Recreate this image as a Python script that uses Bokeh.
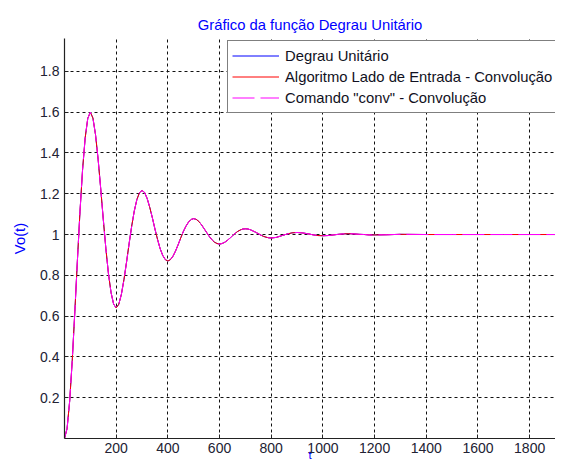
from bokeh.plotting import figure
from bokeh.models import (FixedTicker, CustomJSTickFormatter, Legend, LegendItem,
                          Range1d)
from bokeh.embed import file_html
from bokeh.resources import INLINE

# ---- data ----
t = [0, 10, 20, 30, 40, 50, 60, 70, 80, 90,
     100, 110, 120, 130, 140, 150, 160, 170, 180, 190,
     200, 210, 220, 230, 240, 250, 260, 270, 280, 290,
     300, 310, 320, 330, 340, 350, 360, 370, 380, 390,
     400, 410, 420, 430, 440, 450, 460, 470, 480, 490,
     500, 510, 520, 530, 540, 550, 560, 570, 580, 590,
     600, 610, 620, 630, 640, 650, 660, 670, 680, 690,
     700, 710, 720, 730, 740, 750, 760, 770, 780, 790,
     800, 820, 840, 860, 880, 900, 920, 940, 960, 980,
     1000, 1020, 1040, 1060, 1080, 1100, 1120, 1140, 1160, 1180,
     1200, 1250, 1300, 1400, 1500, 1600, 1700, 1800, 1900, 1940]

vo_degrau = [0.000, 0.049, 0.183, 0.383, 0.622, 0.874, 1.114, 1.319, 1.474, 1.569,
             1.600, 1.571, 1.490, 1.370, 1.227, 1.076, 0.932, 0.809, 0.716, 0.659,
             0.640, 0.658, 0.706, 0.778, 0.864, 0.955, 1.041, 1.115, 1.171, 1.205,
             1.216, 1.206, 1.176, 1.133, 1.082, 1.027, 0.976, 0.931, 0.898, 0.877,
             0.870, 0.877, 0.894, 0.920, 0.951, 0.984, 1.015, 1.041, 1.061, 1.074,
             1.078, 1.074, 1.064, 1.048, 1.029, 1.010, 0.991, 0.975, 0.963, 0.956,
             0.953, 0.956, 0.962, 0.971, 0.982, 0.994, 1.005, 1.015, 1.022, 1.027,
             1.028, 1.027, 1.023, 1.017, 1.011, 1.004, 0.997, 0.991, 0.987, 0.984,
             0.983, 0.986, 0.994, 1.002, 1.008, 1.010, 1.008, 1.004, 0.999, 0.995,
             0.994, 0.995, 0.998, 1.001, 1.003, 1.004, 1.003, 1.001, 1.000, 0.998,
             0.998, 0.999, 1.001, 1.000, 1.000, 1.000, 1.000, 1.000, 1.000, 1.000]

vo_algoritmo = list(vo_degrau)   # "Algoritmo Lado de Entrada - Convolução"
vo_conv = list(vo_degrau)        # Comando "conv" - Convolução

x_ticks = [200, 400, 600, 800, 1000, 1200, 1400, 1600, 1800]
y_ticks = [0.2, 0.4, 0.6, 0.8, 1.0, 1.2, 1.4, 1.6, 1.8]

labels = ["Degrau Unitário",
          "Algoritmo Lado de Entrada - Convolução",
          'Comando "conv" - Convolução']

FONT = "Liberation Sans"

p = figure(width=555, height=464,
           x_range=Range1d(0, 1900), y_range=Range1d(0, 1.961),
           output_backend="svg", toolbar_location=None,
           min_border_left=64, min_border_right=0,
           min_border_top=38, min_border_bottom=26)

p.outline_line_color = None
p.background_fill_color = "white"
p.border_fill_color = "white"

# title
p.title.text = "Gráfico da função Degrau Unitário"
p.title.text_color = "#0000FF"
p.title.text_font = FONT
p.title.text_font_size = "14.8px"
p.title.text_font_style = "normal"
p.title.align = "center"
p.title.offset = 8
p.title.standoff = 12

fmt = CustomJSTickFormatter(code="return String(Math.round(tick*10)/10);")

for ax, ticks in ((p.xaxis[0], x_ticks), (p.yaxis[0], y_ticks)):
    ax.ticker = FixedTicker(ticks=ticks)
    ax.formatter = fmt
    ax.major_tick_in = 4
    ax.major_tick_out = 0
    ax.minor_tick_in = 0
    ax.minor_tick_out = 0
    ax.axis_line_color = "#222222"
    ax.axis_line_width = 1.2
    ax.major_tick_line_color = "#222222"
    ax.major_label_text_font = FONT
    ax.major_label_text_font_size = "14px"
    ax.major_label_text_color = "#222233"

p.xaxis.major_label_standoff = 4
p.yaxis.major_label_standoff = 5

p.yaxis.axis_label = "Vo(t)"
p.yaxis.axis_label_text_color = "#0000FF"
p.yaxis.axis_label_text_font = FONT
p.yaxis.axis_label_text_font_size = "14.8px"
p.yaxis.axis_label_text_font_style = "normal"
p.yaxis.axis_label_standoff = 9

p.xaxis.axis_label = "t"
p.xaxis.axis_label_text_color = "#0000FF"
p.xaxis.axis_label_text_font = FONT
p.xaxis.axis_label_text_font_size = "11.5px"
p.xaxis.axis_label_text_font_style = "normal"
p.xaxis.axis_label_standoff = -7

# grid
for g in (p.xgrid[0], p.ygrid[0]):
    g.grid_line_color = "#111111"
    g.grid_line_dash = "3 3"
    g.grid_line_width = 1
p.xgrid.ticker = FixedTicker(ticks=x_ticks)
p.ygrid.ticker = FixedTicker(ticks=y_ticks)

# lines
r1 = p.line(t, vo_degrau, line_color="#0000FF", line_width=1)
r2 = p.line(t, vo_algoritmo, line_color="#FF0000", line_width=1)
r3 = p.line(t, vo_conv, line_color="#FF00FF", line_width=1, line_dash="22 6")

legend = Legend(items=[LegendItem(label=labels[0], renderers=[r1]),
                       LegendItem(label=labels[1], renderers=[r2]),
                       LegendItem(label=labels[2], renderers=[r3])],
                location=(163, 325))
legend.label_text_font = FONT
legend.label_text_font_size = "14.8px"
legend.label_text_color = "#111122"
legend.glyph_width = 47
legend.glyph_height = 21
legend.label_height = 21
legend.label_standoff = 6
legend.padding = 4
legend.spacing = 0
legend.margin = 0
legend.border_line_color = "#000000"
legend.border_line_width = 1
legend.background_fill_alpha = 1.0
p.add_layout(legend)

open("out.html", "w").write(file_html(p, INLINE))
